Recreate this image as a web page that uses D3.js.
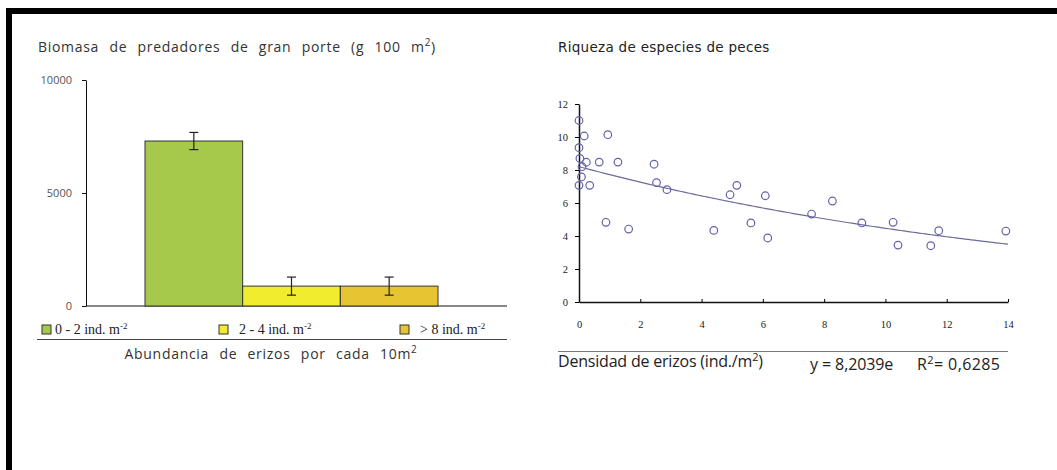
<!DOCTYPE html>
<html>
<head>
<meta charset="utf-8">
<script src="https://cdn.jsdelivr.net/npm/d3@7"></script>
<style>
body { margin: 0; background: #fff; }
svg { display: block; }
</style>
</head>
<body>
<div id="grafico"></div>
<script>
// barras: biomasa por clase de abundancia de erizos
var categorias = ["0 - 2 ind. m", "2 - 4 ind. m", "> 8 ind. m"];
var exponentes = ["-2", "-2", "-2"];
var biomasa = [7300, 880, 880];
var errores = [380, 400, 400];
var coloresBarras = ["#a7c94b", "#f2ec2e", "#e7c532"];
var ticksBiomasa = [0, 5000, 10000];

// dispersion: riqueza frente a densidad de erizos
var densidad = [0, 0.17, 0.94, 0, 0.03, 0.24, 0.1, 0.66, 1.27, 2.45, 0.08, 0, 0.35, 2.53, 2.87,
    0.88, 1.62, 4.4, 4.93, 5.15, 5.61, 6.08, 6.16, 7.59, 8.27, 9.23, 10.25, 10.41, 11.48, 11.74, 13.93];
var riqueza = [11, 10.06, 10.14, 9.35, 8.7, 8.47, 8.2, 8.48, 8.48, 8.35, 7.58, 7.07, 7.07, 7.23, 6.81,
    4.83, 4.42, 4.34, 6.5, 7.07, 4.79, 6.44, 3.88, 5.33, 6.12, 4.79, 4.83, 3.45, 3.41, 4.32, 4.3];
var ticksX = [0, 2, 4, 6, 8, 10, 12, 14];
var ticksY = [0, 2, 4, 6, 8, 10, 12];
var ajusteA = 8.2039, ajusteB = 0.0608;

var svg = d3.select("#grafico").append("svg")
    .attr("width", 1057)
    .attr("height", 470);

svg.append("rect").attr("width", 1057).attr("height", 470).attr("fill", "#fff");

// marco negro
svg.append("rect").attr("x", 6).attr("y", 8).attr("width", 1051).attr("height", 6).attr("fill", "#000");
svg.append("rect").attr("x", 6).attr("y", 8).attr("width", 6).attr("height", 462).attr("fill", "#000");

var fuente = "'Open Sans', 'DejaVu Sans', sans-serif";
var fuenteAncha = "'DejaVu Sans', sans-serif";
var serif = "'Liberation Serif', 'DejaVu Serif', serif";

// ---------- grafico de barras ----------
var xBarras = d3.scaleBand().domain(categorias).range([145, 438]).paddingInner(0);
var yBarras = d3.scaleLinear().domain([0, 10000]).range([306, 80]);

var titulo1 = svg.append("text")
    .attr("x", 38).attr("y", 52)
    .style("font-family", fuente).style("font-size", "14px")
    .style("letter-spacing", "0.7px").style("word-spacing", "6px").attr("fill", "#333")
    .text("Biomasa de predadores de gran porte (g 100 m");
titulo1.append("tspan").attr("dy", -6).style("font-size", "10px").text("2");
titulo1.append("tspan").attr("dy", 6).text(")");

var ejeY1 = svg.append("g")
    .attr("transform", "translate(86,0)")
    .call(d3.axisLeft(yBarras).tickValues(ticksBiomasa).tickSize(4).tickSizeOuter(0).tickPadding(10).tickFormat(d3.format("d")));
ejeY1.selectAll("text").style("font-family", fuente).style("font-size", "11px").attr("fill", "#555");
ejeY1.selectAll("line, path").attr("stroke", "#111");

svg.append("line")
    .attr("x1", 86).attr("x2", 507)
    .attr("y1", yBarras(0)).attr("y2", yBarras(0))
    .attr("stroke", "#111");

svg.append("g").selectAll("rect")
    .data(biomasa)
    .enter()
    .append("rect")
    .attr("x", (d, i) => xBarras(categorias[i]))
    .attr("y", d => yBarras(d))
    .attr("width", xBarras.bandwidth())
    .attr("height", d => yBarras(0) - yBarras(d))
    .attr("fill", (d, i) => coloresBarras[i])
    .attr("stroke", "#333")
    .attr("stroke-width", 1);

var barrasError = svg.append("g").attr("stroke", "#222").attr("stroke-width", 1.2);
biomasa.forEach(function(d, i) {
    var cx = xBarras(categorias[i]) + xBarras.bandwidth() / 2;
    var arriba = yBarras(d + errores[i]), abajo = yBarras(d - errores[i]);
    barrasError.append("line").attr("x1", cx).attr("x2", cx).attr("y1", arriba).attr("y2", abajo);
    barrasError.append("line").attr("x1", cx - 4.5).attr("x2", cx + 4.5).attr("y1", arriba).attr("y2", arriba);
    barrasError.append("line").attr("x1", cx - 4.5).attr("x2", cx + 4.5).attr("y1", abajo).attr("y2", abajo);
});

// leyenda
var posLeyenda = [42, 219, 400];
var leyenda = svg.append("g");
categorias.forEach(function(c, i) {
    leyenda.append("rect")
        .attr("x", posLeyenda[i]).attr("y", 325)
        .attr("width", 9).attr("height", 9)
        .attr("fill", coloresBarras[i]).attr("stroke", "#333");
    var t = leyenda.append("text")
        .attr("x", posLeyenda[i] + (i == 0 ? 13 : 20)).attr("y", 334)
        .style("font-family", serif).style("font-size", "14px").attr("fill", "#222")
        .text(c);
    t.append("tspan").attr("dy", -5).style("font-size", "9px").text(exponentes[i]);
});

svg.append("line")
    .attr("x1", 37).attr("x2", 507).attr("y1", 339.5).attr("y2", 339.5)
    .attr("stroke", "#444");

var tituloX1 = svg.append("text")
    .attr("x", 271).attr("y", 359)
    .attr("text-anchor", "middle")
    .style("font-family", fuente).style("font-size", "14px")
    .style("letter-spacing", "0.7px").style("word-spacing", "6px").attr("fill", "#333")
    .text("Abundancia de erizos por cada 10m");
tituloX1.append("tspan").attr("dy", -6).style("font-size", "10px").text("2");

// ---------- grafico de dispersion ----------
var xDisp = d3.scaleLinear().domain([0, 14]).range([579, 1008]);
var yDisp = d3.scaleLinear().domain([0, 12]).range([302, 104]);

svg.append("text")
    .attr("x", 558).attr("y", 52)
    .style("font-family", fuenteAncha).style("font-size", "13.5px")
    .style("letter-spacing", "0.3px").attr("fill", "#222")
    .text("Riqueza de especies de peces");

var ejeY2 = svg.append("g")
    .attr("transform", "translate(" + xDisp(0) + ",0)")
    .call(d3.axisLeft(yDisp).tickValues(ticksY).tickSize(4).tickSizeOuter(0).tickPadding(7));
ejeY2.selectAll("text").style("font-family", serif).style("font-size", "10.5px").attr("fill", "#222");
ejeY2.select("path").attr("stroke", "#111").attr("stroke-width", 1.5);

var ejeX2 = svg.append("g")
    .attr("transform", "translate(0," + yDisp(0) + ")")
    .call(d3.axisBottom(xDisp).tickValues(ticksX).tickSize(-3).tickSizeOuter(0).tickPadding(19));
ejeX2.selectAll("text").style("font-family", serif).style("font-size", "10.5px").attr("fill", "#222");
ejeX2.select("path").attr("stroke", "#111").attr("stroke-width", 1.3);

var curva = d3.range(0, 14.01, 0.1).map(x => [x, ajusteA * Math.exp(-ajusteB * x)]);
svg.append("path")
    .datum(curva)
    .attr("d", d3.line().x(d => xDisp(d[0])).y(d => yDisp(d[1])))
    .attr("fill", "none")
    .attr("stroke", "#6c6c9c")
    .attr("stroke-width", 1.2);

svg.append("g").selectAll("circle")
    .data(densidad)
    .enter()
    .append("circle")
    .attr("cx", d => xDisp(d))
    .attr("cy", (d, i) => yDisp(riqueza[i]))
    .attr("r", 3.8)
    .attr("fill", "none")
    .attr("stroke", "#6262a6")
    .attr("stroke-width", 1.2);

svg.append("line")
    .attr("x1", 558).attr("x2", 1008).attr("y1", 351.5).attr("y2", 351.5)
    .attr("stroke", "#777");

var tituloX2 = svg.append("text")
    .attr("x", 558).attr("y", 367)
    .style("font-family", fuente).style("font-size", "16px")
    .style("letter-spacing", "-0.2px").attr("fill", "#222")
    .text("Densidad de erizos (ind./m");
tituloX2.append("tspan").attr("dy", -6).style("font-size", "11px").text("2");
tituloX2.append("tspan").attr("dy", 6).text(")");

svg.append("text")
    .attr("x", 810).attr("y", 370)
    .style("font-family", fuente).style("font-size", "16px")
    .style("letter-spacing", "-0.1px").attr("fill", "#222")
    .text("y = 8,2039e");

var r2 = svg.append("text")
    .attr("x", 917).attr("y", 370)
    .style("font-family", fuente).style("font-size", "16px")
    .style("letter-spacing", "0.4px").attr("fill", "#222")
    .text("R");
r2.append("tspan").attr("dy", -6).style("font-size", "11px").text("2");
r2.append("tspan").attr("dy", 6).text("= 0,6285");
</script>
</body>
</html>
